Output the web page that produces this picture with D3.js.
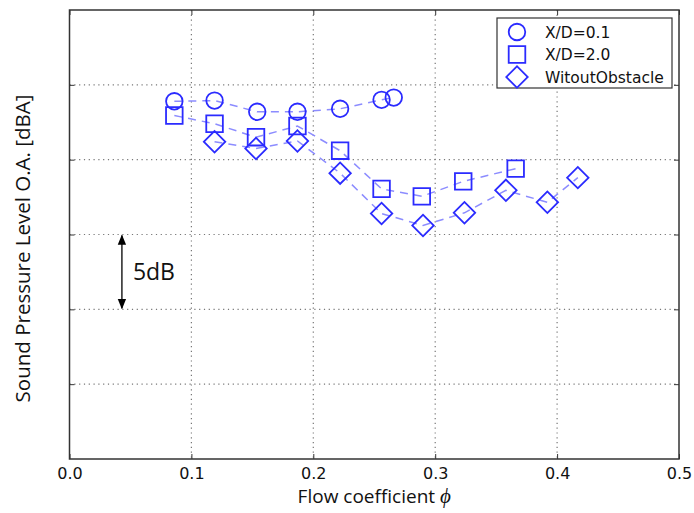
<!DOCTYPE html>
<html>
<head>
<meta charset="utf-8">
<script src="https://cdn.jsdelivr.net/npm/d3@7"></script>
<style>
  body { margin: 0; background: #fff; }
  svg { display: block; }
</style>
</head>
<body>
<div id="chart"></div>
<script>
// data (flow coefficient phi, overall SPL in dBA)
var phiCircle = [0.086, 0.119, 0.154, 0.187, 0.222, 0.256, 0.266];
var splCircle = [83.9, 83.95, 83.2, 83.2, 83.4, 84.0, 84.15];

var phiSquare = [0.086, 0.119, 0.153, 0.187, 0.222, 0.256, 0.289, 0.323, 0.366];
var splSquare = [82.95, 82.4, 81.5, 82.25, 80.6, 78.05, 77.55, 78.55, 79.4];

var phiDiamond = [0.119, 0.153, 0.187, 0.222, 0.256, 0.290, 0.324, 0.358, 0.392, 0.417];
var splDiamond = [81.2, 80.75, 81.25, 79.1, 76.4, 75.6, 76.45, 77.95, 77.15, 78.8];

var seriesNames = ["X/D=0.1", "X/D=2.0", "WitoutObstacle"];
var xTicks = [0.0, 0.1, 0.2, 0.3, 0.4, 0.5];
var yGrid = [65, 70, 75, 80, 85];

var W = 694, H = 513;
var margin = {top: 10, right: 15, bottom: 54, left: 69.5};
var width = W - margin.left - margin.right,
    height = H - margin.top - margin.bottom;

var svg = d3.select("#chart").append("svg")
    .attr("width", W)
    .attr("height", H);

var g = svg.append("g")
    .attr("transform", "translate(" + margin.left + "," + margin.top + ")");

var x = d3.scaleLinear().domain([0, 0.5]).range([0, width]);
var y = d3.scaleLinear().domain([60, 90]).range([height, 0]);

// grid
g.selectAll(".vgrid")
    .data(xTicks.slice(1, -1))
    .enter().append("line")
    .attr("x1", d => x(d)).attr("x2", d => x(d))
    .attr("y1", 0).attr("y2", height)
    .attr("stroke", "#777").attr("stroke-width", 1.2)
    .attr("stroke-dasharray", "1.2,3.6");
g.selectAll(".hgrid")
    .data(yGrid)
    .enter().append("line")
    .attr("x1", 0).attr("x2", width)
    .attr("y1", d => y(d)).attr("y2", d => y(d))
    .attr("stroke", "#777").attr("stroke-width", 1.2)
    .attr("stroke-dasharray", "1.2,3.6");

// axes
var xAxis = d3.axisBottom(x).tickValues(xTicks).tickFormat(d3.format(".1f"))
    .tickSizeInner(-5).tickSizeOuter(0).tickPadding(9);
var gx = g.append("g").attr("transform", "translate(0," + height + ")").call(xAxis);
gx.selectAll("text").attr("font-family", "DejaVu Sans").attr("font-size", 16).attr("fill", "#111");

var xTop = d3.axisTop(x).tickValues(xTicks).tickFormat("").tickSizeInner(-5).tickSizeOuter(0);
g.append("g").call(xTop);
var yLeft = d3.axisLeft(y).tickValues(yGrid).tickFormat("").tickSizeInner(-5).tickSizeOuter(0);
g.append("g").call(yLeft);
var yRight = d3.axisRight(y).tickValues(yGrid).tickFormat("").tickSizeInner(-5).tickSizeOuter(0);
g.append("g").attr("transform", "translate(" + width + ",0)").call(yRight);
g.selectAll(".domain").remove();
g.selectAll(".tick line").attr("stroke", "#333");

g.append("rect")
    .attr("width", width).attr("height", height)
    .attr("fill", "none").attr("stroke", "#333").attr("stroke-width", 1.5);

// series
var series = [
  {name: seriesNames[0], phi: phiCircle, spl: splCircle, sym: d3.symbolCircle, size: 215},
  {name: seriesNames[1], phi: phiSquare, spl: splSquare, sym: d3.symbolSquare, size: 275},
  {name: seriesNames[2], phi: phiDiamond, spl: splDiamond, sym: d3.symbolSquare, size: 230, rot: 45}
];

var line = d3.line().x(d => x(d[0])).y(d => y(d[1]));

series.forEach(function(s) {
  var pts = s.phi.map((p, i) => [p, s.spl[i]]);
  g.append("path")
      .datum(pts)
      .attr("d", line)
      .attr("fill", "none")
      .attr("stroke", "#8c8cff")
      .attr("stroke-width", 1.5)
      .attr("stroke-dasharray", "8,6");
  g.selectAll(null)
      .data(pts)
      .enter().append("path")
      .attr("d", d3.symbol().type(s.sym).size(s.size))
      .attr("transform", d => "translate(" + x(d[0]) + "," + y(d[1]) + ")" + (s.rot ? " rotate(" + s.rot + ")" : ""))
      .attr("fill", "none")
      .attr("stroke", "#2b2bff")
      .attr("stroke-width", 1.8);
});

// legend
var lg = svg.append("g").attr("transform", "translate(497,18)");
lg.append("rect")
    .attr("width", 175).attr("height", 70)
    .attr("fill", "#fff").attr("stroke", "#333").attr("stroke-width", 1.2);
series.forEach(function(s, i) {
  var row = lg.append("g").attr("transform", "translate(20," + (14 + i * 22.5) + ")");
  row.append("path")
      .attr("d", d3.symbol().type(s.sym).size(s.size))
      .attr("transform", s.rot ? "rotate(" + s.rot + ")" : null)
      .attr("fill", "none").attr("stroke", "#2b2bff").attr("stroke-width", 1.8);
  row.append("text")
      .attr("x", 28).attr("y", 5.5)
      .attr("font-family", "DejaVu Sans").attr("font-size", 15.5)
      .attr("fill", "#111")
      .text(s.name);
});

// 5dB scale annotation
var defs = svg.append("defs");
defs.append("marker").attr("id", "ah")
    .attr("viewBox", "0 0 10 10").attr("refX", 9).attr("refY", 5)
    .attr("markerWidth", 8).attr("markerHeight", 8)
    .attr("orient", "auto-start-reverse")
    .append("path").attr("d", "M0,1 L10,5 L0,9 Z").attr("fill", "#000");
g.append("line")
    .attr("x1", x(0.043)).attr("x2", x(0.043))
    .attr("y1", y(75) + 1).attr("y2", y(70) - 1)
    .attr("stroke", "#000").attr("stroke-width", 1.3)
    .attr("marker-start", "url(#ah)").attr("marker-end", "url(#ah)");
g.append("text")
    .attr("x", x(0.052)).attr("y", y(72.5))
    .attr("dy", "0.35em")
    .attr("font-family", "Open Sans").attr("font-size", 23)
    .attr("fill", "#111")
    .text("5dB");

// axis labels
svg.append("text")
    .attr("x", margin.left + width / 2).attr("y", 503)
    .attr("text-anchor", "middle")
    .attr("font-family", "Open Sans").attr("font-size", 19)
    .attr("fill", "#111")
    .text("Flow coefficient ")
    .append("tspan").attr("font-family", "Liberation Serif").attr("font-style", "italic").attr("font-size", 21).text("ϕ");

svg.append("text")
    .attr("transform", "translate(30," + (margin.top + height / 2 + 14) + ") rotate(-90)")
    .attr("text-anchor", "middle")
    .attr("font-family", "Open Sans").attr("font-size", 20.5)
    .attr("fill", "#111")
    .text("Sound Pressure Level O.A. [dBA]");
</script>
</body>
</html>
